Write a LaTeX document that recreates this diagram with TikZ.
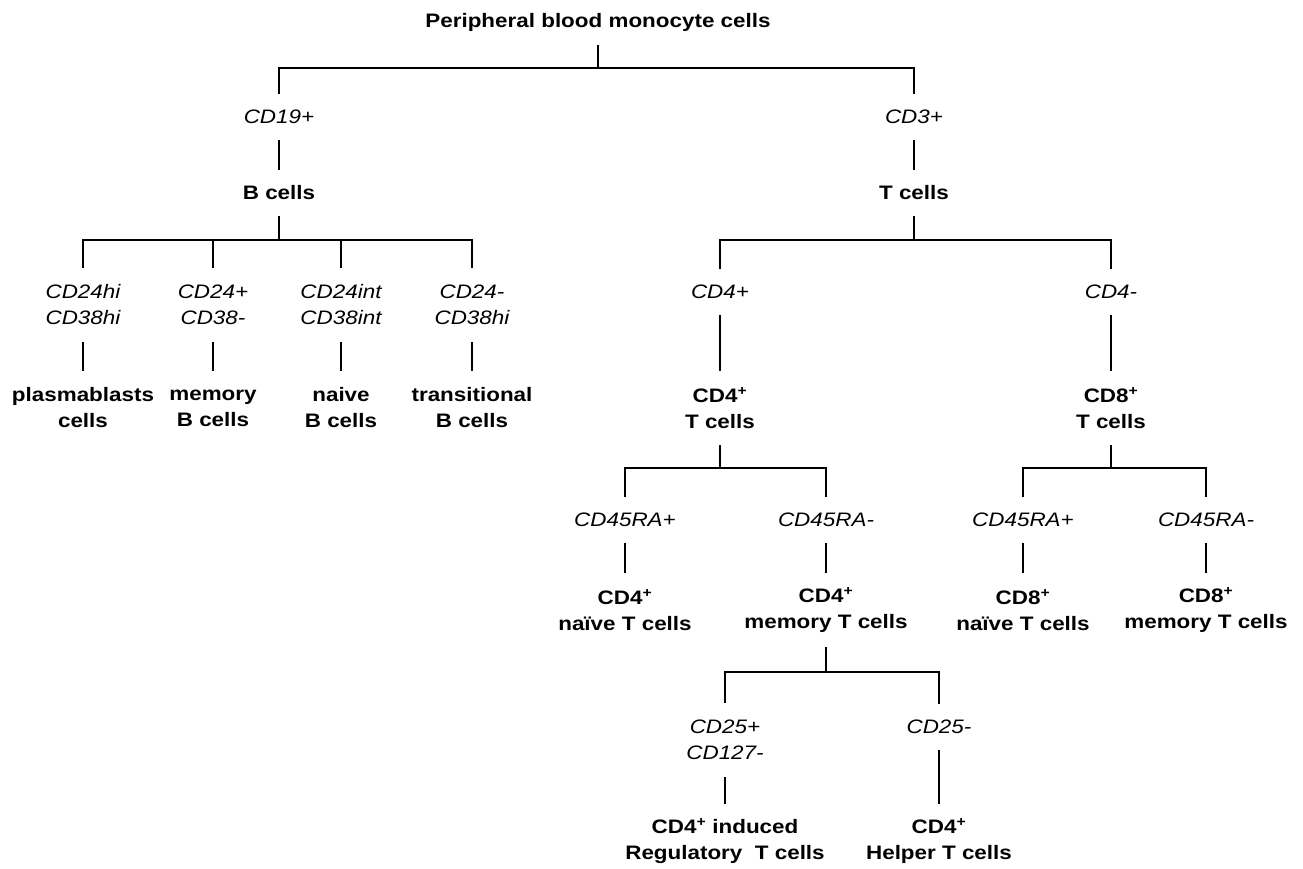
\documentclass[tikz,border=0pt]{standalone}
\usepackage{fontspec}
\setmainfont{Liberation Sans}[FakeStretch=1.15]
\begin{document}
\begin{tikzpicture}[x=1pt,y=-1pt,
  base/.style={font=\fontsize{19.5}{26}\selectfont, align=center, inner sep=0pt, outer sep=0pt, minimum height=48pt},
  marker/.style={base, font=\fontsize{19.5}{26}\selectfont\itshape},
  cell/.style={base, font=\fontsize{19.5}{26}\selectfont\bfseries},
  twoline/.style={minimum height=76pt},
  link/.style={line width=2pt, line cap=rect, line join=miter}]
\useasboundingbox (0,0) rectangle (1303,868);
% root
\node[cell] (root) at (598,22) {Peripheral blood monocyte cells};
\coordinate (j0) at (598,68);
\node[marker] (cd19) at (279,117) {CD19+};
\node[marker] (cd3) at (914,117) {CD3+};
\node[cell] (bcells) at (279,193) {B cells};
\node[cell] (tcells) at (914,193) {T cells};
% B branch
\coordinate (jB) at (279,240);
\node[marker,twoline] (m1) at (83,305) {CD24hi\\CD38hi};
\node[marker,twoline] (m2) at (213,305) {CD24+\\CD38-};
\node[marker,twoline] (m3) at (341,305) {CD24int\\CD38int};
\node[marker,twoline] (m4) at (472,305) {CD24-\\CD38hi};
\node[cell,twoline] (b1) at (83,408) {plasmablasts\\cells};
\node[cell,twoline] (b2) at (213,408) {memory\\B cells};
\node[cell,twoline] (b3) at (341,408) {naive\\B cells};
\node[cell,twoline] (b4) at (472,408) {transitional\\B cells};
% T branch
\coordinate (jT) at (914,240);
\node[marker] (cd4p) at (720,292) {CD4+};
\node[marker] (cd4m) at (1111,292) {CD4-};
\node[cell,twoline] (cd4t) at (720,408) {CD4\textsuperscript{+}\\T cells};
\node[cell,twoline] (cd8t) at (1111,408) {CD8\textsuperscript{+}\\T cells};
% CD4 branch
\coordinate (j4) at (720,468);
\node[marker] (c4ra) at (625,520) {CD45RA+};
\node[marker] (c4rb) at (826,520) {CD45RA-};
\node[cell,twoline] (c4n) at (625,610) {CD4\textsuperscript{+}\\naïve T cells};
\node[cell,twoline] (c4mem) at (826,610) {CD4\textsuperscript{+}\\memory T cells};
% CD8 branch
\coordinate (j8) at (1111,468);
\node[marker] (c8ra) at (1023,520) {CD45RA+};
\node[marker] (c8rb) at (1206,520) {CD45RA-};
\node[cell,twoline] (c8n) at (1023,610) {CD8\textsuperscript{+}\\naïve T cells};
\node[cell,twoline] (c8mem) at (1206,610) {CD8\textsuperscript{+}\\memory T cells};
% memory branch
\coordinate (jM) at (826,672);
\node[marker,twoline] (c25p) at (725,740) {CD25+\\CD127-};
\node[marker] (c25m) at (939,727) {CD25-};
\node[cell,twoline] (treg) at (725,841) {CD4\textsuperscript{+} induced\\Regulatory\ \ T cells};
\node[cell,twoline] (th) at (939,841) {CD4\textsuperscript{+}\\Helper T cells};
% connectors
\draw[link] (root.south) -- (j0);
\draw[link] (cd19.north) |- (j0) -| (cd3.north);
\draw[link] (cd19.south) -- (bcells.north);
\draw[link] (cd3.south) -- (tcells.north);
\draw[link] (bcells.south) -- (jB);
\draw[link] (m1.north) |- (jB) -| (m4.north);
\draw[link] (m2.north) -- (m2.north |- jB);
\draw[link] (m3.north) -- (m3.north |- jB);
\draw[link] (m1.south) -- (b1.north);
\draw[link] (m2.south) -- (b2.north);
\draw[link] (m3.south) -- (b3.north);
\draw[link] (m4.south) -- (b4.north);
\draw[link] (tcells.south) -- (jT);
\draw[link] (cd4p.north) |- (jT) -| (cd4m.north);
\draw[link] (cd4p.south) -- (cd4t.north);
\draw[link] (cd4m.south) -- (cd8t.north);
\draw[link] (cd4t.south) -- (j4);
\draw[link] (c4ra.north) |- (j4) -| (c4rb.north);
\draw[link] (c4ra.south) -- (c4n.north);
\draw[link] (c4rb.south) -- (c4mem.north);
\draw[link] (cd8t.south) -- (j8);
\draw[link] (c8ra.north) |- (j8) -| (c8rb.north);
\draw[link] (c8ra.south) -- (c8n.north);
\draw[link] (c8rb.south) -- (c8mem.north);
\draw[link] (c4mem.south) -- (jM);
\draw[link] (c25p.north) |- (jM) -| (c25m.north);
\draw[link] (c25p.south) -- (treg.north);
\draw[link] (c25m.south) -- (th.north);
\end{tikzpicture}
\end{document}
